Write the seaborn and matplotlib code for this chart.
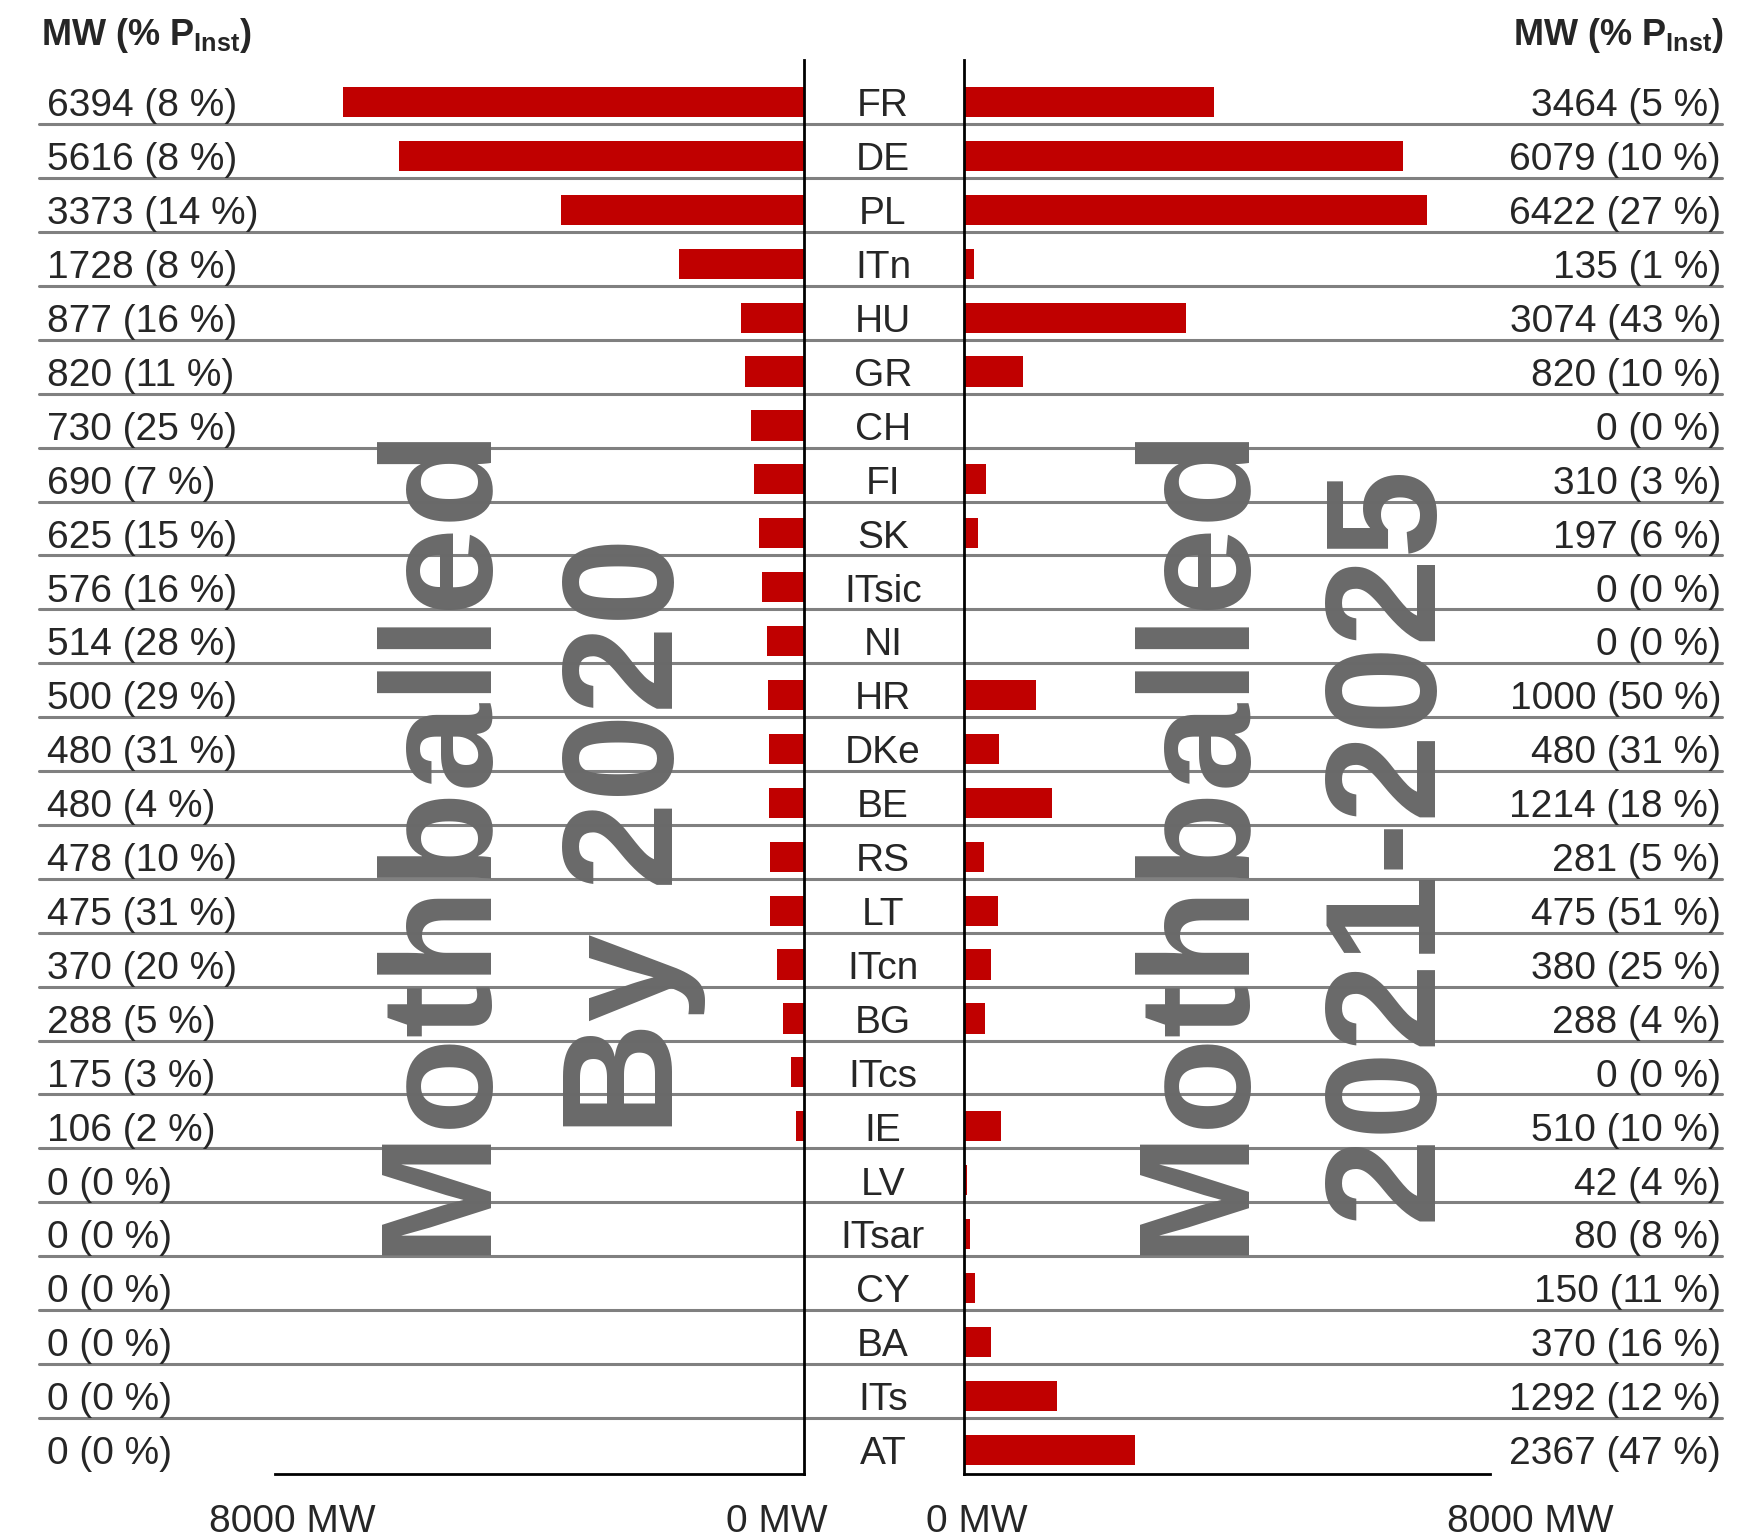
import numpy as np
import pandas as pd
import matplotlib
matplotlib.use("Agg")
import matplotlib.pyplot as plt
import matplotlib.transforms as mtransforms
from matplotlib.lines import Line2D
from matplotlib import font_manager
import seaborn as sns

countries = ["FR", "DE", "PL", "ITn", "HU", "GR", "CH", "FI", "SK", "ITsic", "NI", "HR", "DKe",
             "BE", "RS", "LT", "ITcn", "BG", "ITcs", "IE", "LV", "ITsar", "CY", "BA", "ITs", "AT"]
mw_by_2020 = [6394, 5616, 3373, 1728, 877, 820, 730, 690, 625, 576, 514, 500, 480,
              480, 478, 475, 370, 288, 175, 106, 0, 0, 0, 0, 0, 0]
pct_by_2020 = [8, 8, 14, 8, 16, 11, 25, 7, 15, 16, 28, 29, 31,
               4, 10, 31, 20, 5, 3, 2, 0, 0, 0, 0, 0, 0]
mw_2021_2025 = [3464, 6079, 6422, 135, 3074, 820, 0, 310, 197, 0, 0, 1000, 480,
                1214, 281, 475, 380, 288, 0, 510, 42, 80, 150, 370, 1292, 2367]
pct_2021_2025 = [5, 10, 27, 1, 43, 10, 0, 3, 6, 0, 0, 50, 31,
                 18, 5, 51, 25, 4, 0, 10, 4, 8, 11, 16, 12, 47]

df = pd.DataFrame({"country": countries,
                   "mw_2020": mw_by_2020, "pct_2020": pct_by_2020,
                   "mw_2025": mw_2021_2025, "pct_2025": pct_2021_2025})

sns.set_style("white")
plt.rcParams["font.family"] = ["Liberation Sans", "DejaVu Sans"]
plt.rcParams["mathtext.fontset"] = "custom"
plt.rcParams["mathtext.rm"] = "Liberation Sans"
plt.rcParams["mathtext.bf"] = "Liberation Sans:bold"

names = {f.name for f in font_manager.fontManager.ttflist}
narrow = "Liberation Sans Narrow" if "Liberation Sans Narrow" in names else "Liberation Sans"

red = "#C00000"
W, H = 1761, 1538
fig = plt.figure(figsize=(W / 100, H / 100), dpi=100)


def fx(px):
    return px / W


def fy(py):
    return 1 - py / H


top, bottom = 60, 1474
ax_l = fig.add_axes([fx(275), fy(bottom), (804 - 275) / W, (bottom - top) / H])
ax_r = fig.add_axes([fx(964), fy(bottom), (1490 - 964) / W, (bottom - top) / H])

sns.barplot(data=df, x="mw_2020", y="country", orient="h", color=red, saturation=1,
            width=0.56, edgecolor="none", linewidth=0, ax=ax_l)
sns.barplot(data=df, x="mw_2025", y="country", orient="h", color=red, saturation=1,
            width=0.56, edgecolor="none", linewidth=0, ax=ax_r)

ax_l.set_xlim(7337, 0)
ax_r.set_xlim(0, 7290)
for ax in (ax_l, ax_r):
    ax.set_ylim(25.45, -0.78)
    ax.set_xticks([])
    ax.set_yticks([])
    ax.set_xlabel("")
    ax.set_ylabel("")
    ax.set_facecolor("none")
    ax.set_zorder(1)
sns.despine(ax=ax_l, top=True, right=False, left=True, bottom=False)
sns.despine(ax=ax_r, top=True, right=True, left=False, bottom=False)
for side in ("right", "bottom"):
    ax_l.spines[side].set_color("black")
    ax_l.spines[side].set_linewidth(2)
for side in ("left", "bottom"):
    ax_r.spines[side].set_color("black")
    ax_r.spines[side].set_linewidth(2)

# row texts and grey separators, rows placed through the bar axis
row_tr = mtransforms.blended_transform_factory(fig.transFigure, ax_l.transData)
fs = 28
dy = 0.08
for i, row in df.iterrows():
    fig.text(fx(47), i + dy, f"{row.mw_2020} ({row.pct_2020} %)", transform=row_tr,
             ha="left", va="center", fontsize=fs)
    fig.text(fx(883), i + dy, row.country, transform=row_tr,
             ha="center", va="center", fontsize=fs)
    fig.text(fx(1721), i + dy, f"{row.mw_2025} ({row.pct_2025} %)", transform=row_tr,
             ha="right", va="center", fontsize=fs)
    if i < len(df) - 1:
        fig.add_artist(Line2D([fx(39), fx(1722)], [i + 0.41, i + 0.41], transform=row_tr,
                              color="#808080", lw=2.2, zorder=0.5))

# headers
header = r"MW (% P$_{\mathbf{Inst}}$)"
fig.text(fx(41), fy(45), header, ha="left", va="baseline", fontsize=26,
         fontweight="bold", family=narrow)
fig.text(fx(1724), fy(45), header, ha="right", va="baseline", fontsize=26,
         fontweight="bold", family=narrow)

# bottom axis labels
for xc, lab in [(292, "8000 MW"), (777, "0 MW"), (977, "0 MW"), (1530, "8000 MW")]:
    fig.text(fx(xc), fy(1522), lab, ha="center", va="center", fontsize=fs)

# big watermark labels
wm = dict(rotation=90, ha="center", va="center", fontsize=114, fontweight="bold",
          color="#696969", zorder=5)
fig.text(fx(441), fy(837), "Mothballed", **wm)
fig.text(fx(632), fy(837), "By 2020", **wm)
fig.text(fx(1199), fy(837), "Mothballed", **wm)
fig.text(fx(1390), fy(842), "2021-2025", **wm)

fig.savefig("out.png", dpi=100)
